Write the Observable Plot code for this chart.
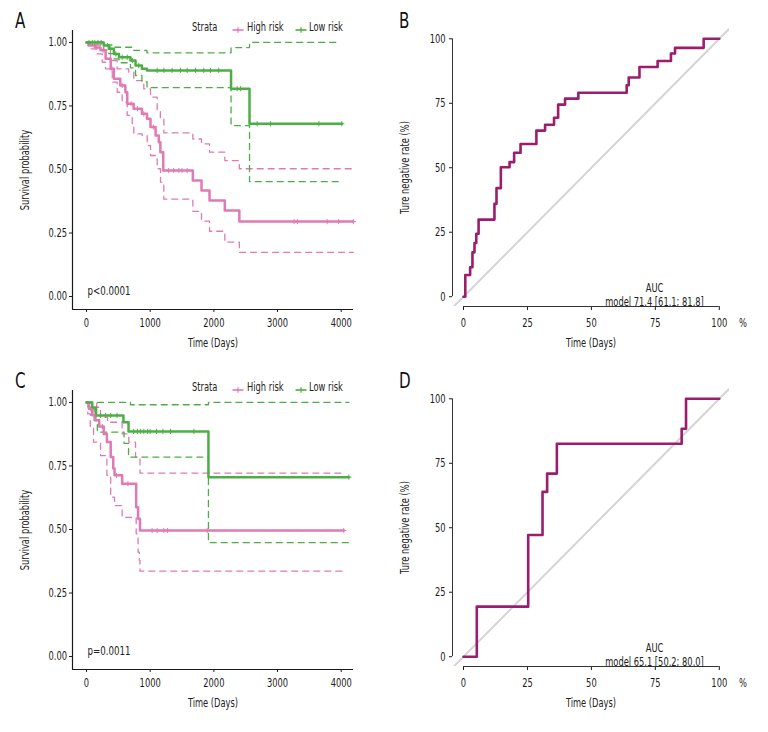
<!DOCTYPE html>
<html><head><meta charset="utf-8">
<script src="https://cdn.jsdelivr.net/npm/d3@7"></script>
<script src="https://cdn.jsdelivr.net/npm/@observablehq/plot@0.6"></script>
<style>
body{margin:0;background:#fff;font-family:"Liberation Sans Narrow","DejaVu Sans Condensed",sans-serif;}
#grid{position:relative;width:768px;height:732px;}
.panel{position:absolute;width:384px;height:360px;}
.letter{position:absolute;left:15px;top:11px;font-size:21px;line-height:21px;color:#111;transform:scaleX(0.8);transform-origin:left center;}
.leg{position:absolute;top:20px;font-size:12px;line-height:14px;color:#222;white-space:nowrap;transform:scaleX(0.77);transform-origin:left center;}
.sw{position:absolute;top:21px;}
</style></head><body>
<div id="grid"></div>
<script>
// ---------- shared ticks / labels ----------
const kmTicks = [0, 1000, 2000, 3000, 4000];
const survTicks = [0, 0.25, 0.5, 0.75, 1];
const rocTicks = [0, 25, 50, 75, 100];
const strata = ["High risk", "Low risk"];
const panelLetters = ["A", "B", "C", "D"];

// ---------- Panel A (Kaplan-Meier) ----------
const aHighT  = [0,30,140,220,300,380,430,530,610,640,740,870,950,1005,1085,1135,1160,1205,1670,1806,1932,2172,2400,4190];
const aHighS  = [1,0.988,0.98,0.969,0.936,0.896,0.857,0.831,0.804,0.759,0.739,0.719,0.70,0.667,0.634,0.607,0.568,0.496,0.457,0.417,0.378,0.339,0.295,0.295];
const aHighUpT = [0,150,220,377,481,664,743,900,1005,1110,1160,1215,1670,1806,1932,2172,2400,4190];
const aHighUpS = [1,0.99,0.969,0.929,0.896,0.883,0.85,0.817,0.785,0.732,0.70,0.644,0.62,0.601,0.568,0.535,0.503,0.503];
const aHighLoT = [0,63,168,247,298,404,482,560,639,718,743,874,953,1005,1110,1162,1214,1670,1806,1932,2172,2400,4190];
const aHighLoS = [1,0.975,0.955,0.922,0.896,0.844,0.804,0.765,0.713,0.673,0.640,0.634,0.594,0.555,0.503,0.450,0.383,0.335,0.297,0.257,0.214,0.174,0.174];
const aLowT   = [0,270,350,430,510,690,770,870,950,2270,2560,4010];
const aLowS   = [1,0.988,0.975,0.955,0.942,0.929,0.909,0.896,0.89,0.818,0.68,0.68];
const aLowUpT = [0,330,450,720,950,2270,2560,3960];
const aLowUpS = [1,0.99,0.981,0.969,0.959,0.98,1,1];
const aLowLoT = [0,270,350,430,510,690,770,870,950,2270,2560,3990];
const aLowLoS = [1,0.97,0.956,0.935,0.92,0.9,0.87,0.845,0.822,0.673,0.452,0.452];
const aHighCens = [150,260,400,560,700,800,900,1050,1290,1370,1450,1500,1580,3260,3310,3780,3960,4190];
const aLowCens  = [40,90,130,180,230,380,460,560,640,720,820,1110,1215,1345,1476,1581,1712,1842,1947,2077,2366,2420,2680,2890,3650,4010];
const aPval = "p<0.0001";

// ---------- Panel C (Kaplan-Meier) ----------
const cHighT  = [0,40,90,140,200,270,320,380,420,440,560,780,810,840,4040];
const cHighS  = [1,0.975,0.95,0.93,0.905,0.876,0.844,0.785,0.74,0.713,0.68,0.588,0.542,0.496,0.496];
const cHighUpT = [0,160,220,330,560,664,770,840,4040];
const cHighUpS = [1,0.981,0.942,0.922,0.876,0.844,0.785,0.722,0.722];
const cHighLoT = [0,20,60,110,220,320,380,440,560,780,810,830,840,4040];
const cHighLoS = [1,0.955,0.9,0.844,0.791,0.713,0.627,0.594,0.548,0.483,0.411,0.378,0.336,0.336];
const cLowT   = [0,90,150,580,660,1915,4120];
const cLowS   = [1,0.98,0.949,0.922,0.886,0.706,0.706];
const cLowUpT = [0,690,1915,4120];
const cLowUpS = [1,0.991,1,1];
const cLowLoT = [0,80,120,170,590,660,1915,4120];
const cLowLoS = [1,0.975,0.929,0.883,0.839,0.785,0.448,0.448];
const cHighCens = [60,120,250,470,650,1030,1110,1215,1270,1895,4040];
const cLowCens  = [220,300,380,480,740,800,850,900,960,1000,1100,1200,1320,1686,4120];
const cPval = "p=0.0011";

// ---------- Panel B (ROC) ----------
const bX = [0,0.7,2.6,3.5,4.3,5.0,5.9,12.1,12.9,14.6,18.0,19.8,22.3,28.5,31.9,35.4,37.0,39.7,44.9,63.8,64.6,68.8,75.9,81.1,82.7,93.9,100];
const bY = [0,8.4,11.4,17.2,20.8,24.4,29.9,36.0,42.1,50.2,52.2,55.8,59.2,64.4,66.7,69.4,74.5,76.8,79.1,82.0,85.0,89.1,91.4,94.3,96.5,100,100];
const bAuc = ["AUC", "model 71.4 [61.1; 81.8]"];

// ---------- Panel D (ROC) ----------
const dX = [0,5.2,25.3,30.9,32.7,36.5,85.3,87.0,100];
const dY = [0,19.4,47.2,63.9,71.0,82.6,88.4,100,100];
const dAuc = ["AUC", "model 65.1 [50.2; 80.0]"];

// ---------- styling ----------
const pink = "#e07ab4", green = "#4dae45", rocColor = "#9c1d6c", diagColor = "#d4d4d4", axisColor = "#1a1a1a";
const font = "'Liberation Sans Narrow','DejaVu Sans Condensed',sans-serif";
const squeeze = 0.77;
const kmXDomain = [-220, 4193];
const kmYDomain = [-0.051, 1.047];
const rocXDomain = [-4.3, 104];
const rocYDomain = [-3.8, 104];

const rows = (T, S) => T.map((t, i) => ({t, s: S[i]}));
function survAt(T, S, t) { let v = S[0]; for (let i = 0; i < T.length; i++) if (T[i] <= t) v = S[i]; return v; }

function kmPlot(d) {
  const step = (T, S, stroke, dashed) => Plot.line(rows(T, S), {
    x: "t", y: "s", curve: "step-after", stroke,
    strokeWidth: dashed ? 1.3 : 2.5, strokeDasharray: dashed ? "6,5" : null
  });
  const cens = (C, T, S, stroke) => Plot.dot(C.map(t => ({t, s: survAt(T, S, t)})), {
    x: "t", y: "s", symbol: "plus", r: 1.8, stroke, strokeWidth: 1
  });
  return Plot.plot({
    width: 384, height: 360, marginLeft: 72, marginRight: 31, marginTop: 30, marginBottom: 51,
    style: {fontFamily: font, fontSize: "12px", color: axisColor, background: "transparent"},
    x: {domain: kmXDomain, ticks: kmTicks, tickFormat: v => String(v), tickSize: 3, tickPadding: 6, label: null},
    y: {domain: kmYDomain, ticks: survTicks, tickFormat: d3.format(".2f"), tickSize: 3, tickPadding: 2.5, label: null},
    marks: [
      Plot.ruleX([kmXDomain[0]], {stroke: axisColor, strokeWidth: 1.2}),
      Plot.ruleY([kmYDomain[0]], {stroke: axisColor, strokeWidth: 1.2}),
      step(d.highUpT, d.highUpS, pink, true),
      step(d.highLoT, d.highLoS, pink, true),
      step(d.lowUpT, d.lowUpS, green, true),
      step(d.lowLoT, d.lowLoS, green, true),
      step(d.highT, d.highS, pink, false),
      step(d.lowT, d.lowS, green, false),
      cens(d.highCens, d.highT, d.highS, pink),
      cens(d.lowCens, d.lowT, d.lowS, green),
      Plot.text([d.pval], {frameAnchor: "bottom-left", dx: 15, dy: -19, textAnchor: "start", lineAnchor: "middle", fontSize: 12.5, fill: "#222"}),
      Plot.text(["Time (Days)"], {frameAnchor: "bottom", dy: 34, textAnchor: "middle", lineAnchor: "middle", fill: "#222"}),
      Plot.text(["Survival probability"], {frameAnchor: "left", dx: -47, rotate: -90, textAnchor: "middle", lineAnchor: "middle", fill: "#222"})
    ]
  });
}

function rocPlot(X, Y, auc) {
  const data = X.map((x, i) => ({x, y: Y[i]}));
  return Plot.plot({
    width: 384, height: 360, marginLeft: 68, marginRight: 39, marginTop: 28, marginBottom: 54,
    style: {fontFamily: font, fontSize: "12px", color: axisColor, background: "transparent"},
    x: {domain: rocXDomain, ticks: rocTicks, tickSize: 4, tickPadding: 8, label: null},
    y: {domain: rocYDomain, ticks: rocTicks, tickSize: 3, tickPadding: 4, label: null},
    marks: [
      Plot.line(rocXDomain, {x: v => v, y: v => v, stroke: diagColor, strokeWidth: 2, clip: true}),
      Plot.ruleX([rocXDomain[0]], {x: v => v, y1: d3.min(rocTicks), y2: d3.max(rocTicks), stroke: "#333", strokeWidth: 1}),
      Plot.ruleY([rocYDomain[0]], {y: v => v, x1: d3.min(rocTicks), x2: d3.max(rocTicks), stroke: "#333", strokeWidth: 1}),
      Plot.line(data, {x: "x", y: "y", curve: "step-after", stroke: rocColor, strokeWidth: 2.6}),
      Plot.text([auc.join("\n")], {frameAnchor: "bottom-right", dx: -75, dy: -1, textAnchor: "middle", lineAnchor: "bottom", lineHeight: 1.15, fill: "#222"}),
      Plot.text(["%"], {frameAnchor: "bottom-right", dx: 13.5, dy: 17, textAnchor: "middle", lineAnchor: "middle", fill: "#222"}),
      Plot.text(["Time (Days)"], {frameAnchor: "bottom", dy: 37, textAnchor: "middle", lineAnchor: "middle", fill: "#222"}),
      Plot.text(["Ture negative rate (%)"], {frameAnchor: "left", dx: -47.5, rotate: -90, textAnchor: "middle", lineAnchor: "middle", fill: "#222"})
    ]
  });
}

// narrow the installed sans font to the condensed look of the original
function condense(svg) {
  svg.querySelectorAll("text").forEach(t => {
    const spans = t.querySelectorAll("tspan");
    const targets = spans.length ? Array.from(spans) : [t];
    targets.forEach(el => {
      const len = el.getComputedTextLength();
      if (len > 0) {
        el.setAttribute("textLength", (len * squeeze).toFixed(2));
        el.setAttribute("lengthAdjust", "spacingAndGlyphs");
      }
    });
  });
}

const grid = document.getElementById("grid");
function makePanel(left, top, letter) {
  const p = document.createElement("div");
  p.className = "panel"; p.style.left = left + "px"; p.style.top = top + "px";
  const l = document.createElement("div"); l.className = "letter"; l.textContent = letter;
  p.appendChild(l);
  grid.appendChild(p);
  return p;
}
function addPlot(p, svg) {
  svg.style.position = "absolute"; svg.style.left = "0"; svg.style.top = "0";
  p.insertBefore(svg, p.firstChild);
  condense(svg);
}
function addLegend(p) {
  const sw = (c) => `<svg width="12" height="12"><line x1="0.5" x2="11.5" y1="6" y2="6" stroke="${c}" stroke-width="1.6"/><line x1="6" x2="6" y1="3.3" y2="8.7" stroke="${c}" stroke-width="1.2"/></svg>`;
  const html = `<div class="leg" style="left:192px">Strata</div>
    <div class="sw" style="left:232px">${sw(pink)}</div>
    <div class="leg" style="left:247px">${strata[0]}</div>
    <div class="sw" style="left:295px">${sw(green)}</div>
    <div class="leg" style="left:309px">${strata[1]}</div>`;
  const w = document.createElement("div");
  w.innerHTML = html;
  while (w.firstChild) p.appendChild(w.firstChild);
}

const pA = makePanel(0, 0, panelLetters[0]);
addPlot(pA, kmPlot({highT: aHighT, highS: aHighS, highUpT: aHighUpT, highUpS: aHighUpS, highLoT: aHighLoT, highLoS: aHighLoS,
  lowT: aLowT, lowS: aLowS, lowUpT: aLowUpT, lowUpS: aLowUpS, lowLoT: aLowLoT, lowLoS: aLowLoS,
  highCens: aHighCens, lowCens: aLowCens, pval: aPval}));
addLegend(pA);

const pB = makePanel(384, 0, panelLetters[1]);
addPlot(pB, rocPlot(bX, bY, bAuc));

const pC = makePanel(0, 360, panelLetters[2]);
addPlot(pC, kmPlot({highT: cHighT, highS: cHighS, highUpT: cHighUpT, highUpS: cHighUpS, highLoT: cHighLoT, highLoS: cHighLoS,
  lowT: cLowT, lowS: cLowS, lowUpT: cLowUpT, lowUpS: cLowUpS, lowLoT: cLowLoT, lowLoS: cLowLoS,
  highCens: cHighCens, lowCens: cLowCens, pval: cPval}));
addLegend(pC);

const pD = makePanel(384, 360, panelLetters[3]);
addPlot(pD, rocPlot(dX, dY, dAuc));
</script>
</body></html>
